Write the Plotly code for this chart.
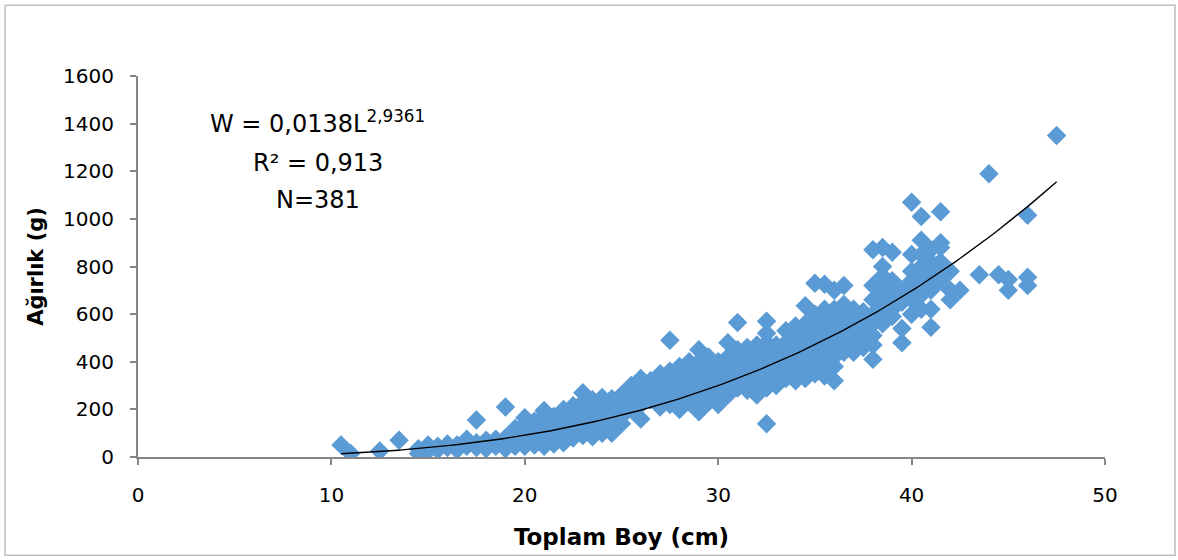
import numpy as np
import plotly.graph_objects as go

# ---- data (Toplam Boy cm, Ağırlık g) ----
length_cm = []
weight_g = []

def add(x, ys):
    for y in ys:
        length_cm.append(x)
        weight_g.append(y)

# small fish
add(10.5, [50]); add(11, [15]); add(12.5, [25]); add(13.5, [70])
add(14.5, [15, 35]); add(15, [25, 50]); add(15.5, [30, 45]); add(16, [40, 55])
add(16.5, [30, 50]); add(17, [45, 75]); add(17.5, [155, 40, 60]); add(18, [35, 70, 50])
add(18.5, [45, 75, 60]); add(19, [210, 80, 50, 35]); add(19.5, [60, 95, 45, 120])
# 20 - 25
add(20, [165, 130, 100, 80, 60, 45, 110, 140])
add(20.5, [90, 70, 120, 50, 150, 100])
add(21, [195, 160, 130, 105, 85, 60, 45, 175])
add(21.5, [140, 100, 75, 55, 120, 170, 90])
add(22, [180, 150, 120, 95, 70, 60, 200])
add(22.5, [215, 170, 130, 100, 80, 150])
add(23, [270, 230, 200, 160, 120, 90, 180])
add(23.5, [240, 190, 150, 110, 85, 130])
add(24, [250, 210, 170, 130, 100, 150, 225])
add(24.5, [245, 200, 160, 120, 100, 180])
add(25, [200, 170, 140, 230, 260])
# 25.5 - 30
add(25.5, [300, 250, 200, 280])
add(26, [330, 310, 290, 255, 160, 220])
add(26.5, [320, 280, 240, 300])
add(27, [350, 320, 290, 250, 210, 230])
add(27.5, [490, 360, 330, 300, 260, 220])
add(28, [380, 340, 310, 280, 240, 200])
add(28.5, [400, 360, 320, 290, 260, 230])
add(29, [450, 400, 360, 330, 290, 250, 190, 220])
add(29.5, [420, 380, 340, 300, 260, 230])
add(30, [400, 370, 330, 300, 270, 240, 220])
# 30.5 - 35.5
add(30.5, [480, 420, 390, 360, 320, 290, 260])
add(31, [565, 450, 410, 380, 350, 320, 290])
add(31.5, [460, 420, 390, 360, 330, 300, 280])
add(32, [470, 430, 400, 370, 340, 310, 290, 260])
add(32.5, [570, 520, 480, 440, 400, 360, 320, 290, 140])
add(33, [470, 440, 410, 380, 350, 320, 300])
add(33.5, [530, 480, 450, 420, 390, 360, 330])
add(34, [550, 500, 470, 440, 410, 380, 350, 320])
add(34.5, [635, 560, 520, 480, 440, 400, 360, 330])
add(35, [730, 600, 560, 520, 470, 430, 400, 370, 350])
add(35.5, [725, 620, 580, 530, 490, 450, 420, 380, 340])
# 36 - 40.5
add(36, [700, 620, 590, 540, 500, 460, 420, 320, 380])
add(36.5, [720, 640, 600, 560, 520, 480, 440])
add(37, [620, 580, 540, 500, 460, 440])
add(37.5, [610, 570, 530, 490, 460])
add(38, [870, 720, 660, 600, 560, 510, 410, 470])
add(38.5, [880, 800, 760, 720, 680, 640, 600, 560])
add(39, [860, 740, 700, 660, 620, 590])
add(39.5, [700, 650, 540, 480])
add(40, [1070, 850, 780, 740, 700, 660, 600])
add(40.5, [1010, 910, 850, 800, 760, 720, 680, 620])
# large fish
add(41, [870, 820, 780, 740, 700, 620, 545])
add(41.5, [1030, 900, 880, 820, 760, 740])
add(42, [780, 700, 660]); add(42.5, [700]); add(43.5, [765]); add(44, [1190])
add(44.5, [765]); add(45, [745, 700]); add(46, [1015, 755, 720]); add(47.5, [1350])

# power trendline coefficients as printed on the chart
TREND_A = 0.0138
TREND_B = 2.9361

x_ticks = [0, 10, 20, 30, 40, 50]
y_ticks = [0, 200, 400, 600, 800, 1000, 1200, 1400, 1600]

tx = np.linspace(min(length_cm), max(length_cm), 200)
ty = TREND_A * tx ** TREND_B

FONT = "DejaVu Sans"
AXIS_COLOR = "#868686"

fig = go.Figure()
fig.add_trace(go.Scatter(
    x=length_cm, y=weight_g, mode="markers",
    marker=dict(symbol="diamond", size=15, color="#5B9BD5", line=dict(width=0)),
    showlegend=False, hoverinfo="x+y"))
fig.add_trace(go.Scatter(
    x=tx, y=ty, mode="lines", line=dict(color="black", width=1.4),
    showlegend=False, hoverinfo="skip"))

fig.update_layout(
    width=1178, height=560,
    margin=dict(l=138, r=73, t=76, b=103),
    paper_bgcolor="white", plot_bgcolor="white",
    font=dict(family=FONT, size=20, color="black"),
    xaxis=dict(range=[0, 50], tickvals=x_ticks, showgrid=False, zeroline=False,
               showline=True, linecolor=AXIS_COLOR, linewidth=2,
               ticks="outside", ticklen=6, tickcolor=AXIS_COLOR, tickwidth=1.5,
               ticklabelstandoff=13,
               tickfont=dict(family=FONT, size=20),
               title=dict(text="<b>Toplam Boy (cm)</b>", font=dict(family=FONT, size=23),
                          standoff=23)),
    yaxis=dict(range=[0, 1600], tickvals=y_ticks, showgrid=False, zeroline=False,
               showline=True, linecolor=AXIS_COLOR, linewidth=2,
               ticks="outside", ticklen=6, tickcolor=AXIS_COLOR, tickwidth=1.5,
               ticklabelstandoff=12,
               tickfont=dict(family=FONT, size=20),
               title=dict(text="<b>Ağırlık (g)</b>", font=dict(family=FONT, size=21),
                          standoff=14)),
)

ann_font = dict(family=FONT, size=24, color="black")
fig.add_annotation(x=0.186, y=0.878, xref="paper", yref="paper", showarrow=False,
                   xanchor="center", yanchor="middle",
                   text="W = 0,0138L<sup>2,9361</sup>", font=ann_font)
fig.add_annotation(x=0.186, y=0.772, xref="paper", yref="paper", showarrow=False,
                   xanchor="center", yanchor="middle",
                   text="R² = 0,913", font=ann_font)
fig.add_annotation(x=0.186, y=0.675, xref="paper", yref="paper", showarrow=False,
                   xanchor="center", yanchor="middle",
                   text="N=381", font=ann_font)

# outer chart border
fig.add_shape(type="rect", xref="paper", yref="paper",
              x0=-0.1375, x1=1.0724, y0=-0.258, y1=1.186,
              line=dict(color="#BFBFBF", width=1.5), layer="below")

fig.write_html("out.html", config={"displayModeBar": False},
               post_script="document.body.style.margin='0px';")
